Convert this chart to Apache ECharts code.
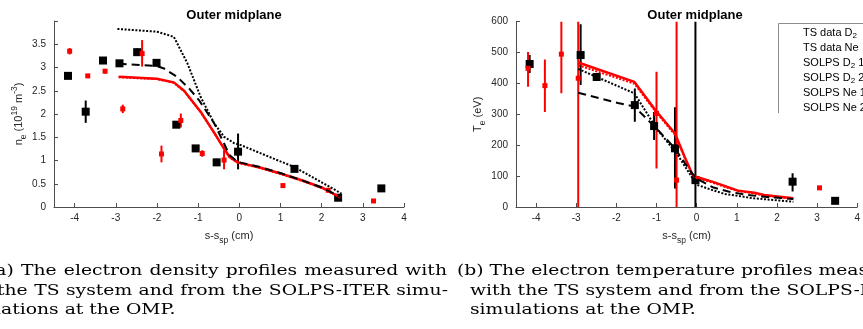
<!DOCTYPE html>
<html><head><meta charset="utf-8">
<script src="https://cdn.jsdelivr.net/npm/echarts@6/dist/echarts.min.js"></script>
<style>
html,body{margin:0;padding:0;background:#fff;overflow:hidden;width:863px;height:329px;}
#chart{position:absolute;left:0;top:0;width:863px;height:329px;}
.cap{position:absolute;font-family:'DejaVu Serif',serif;font-size:15px;line-height:20px;color:#000;white-space:nowrap;transform-origin:0 0;transform:scaleX(1.25);}
.just{text-align:justify;text-align-last:justify;white-space:normal;}
</style></head><body>
<div id="chart"></div>
<script>
// ---------- data: electron density (left panel) ----------
const neD2X  = [-4.16,-3.73,-3.31,-2.91,-2.48,-2.01,-1.53,-1.06,-0.55,-0.03,1.34,2.40,3.45];
const neD2Y  = [2.82,2.05,3.15,3.09,3.33,3.10,1.77,1.26,0.96,1.19,0.82,0.20,0.40];
const neD2Lo = [2.79,1.81,3.12,3.06,3.25,3.03,1.71,1.21,0.88,0.81,0.78,0.17,0.37];
const neD2Hi = [2.85,2.29,3.18,3.12,3.41,3.17,1.83,1.31,1.04,1.58,0.86,0.23,0.43];
const neNeX  = [-4.12,-3.68,-3.26,-2.83,-2.36,-1.89,-1.42,-0.90,-0.37,1.06,2.16,3.26];
const neNeY  = [3.35,2.82,2.92,2.11,3.30,1.14,1.86,1.15,1.01,0.46,0.36,0.13];
const neNeLo = [3.28,2.80,2.87,2.02,3.02,0.96,1.71,1.08,0.81,0.41,0.33,0.12];
const neNeHi = [3.42,2.84,2.97,2.20,3.59,1.32,2.01,1.22,1.23,0.51,0.39,0.14];
const neSolD21X = [-2.93,-2.0,-1.83,-1.51,-1.22,-0.98,-0.61,-0.40,-0.24,-0.04,0.5,1.0,1.5,2.0,2.45];
const neSolD21Y = [3.08,3.03,2.98,2.80,2.55,2.30,1.80,1.42,1.12,0.97,0.86,0.73,0.58,0.42,0.22];
const neSolD22X = [-2.96,-2.0,-1.59,-1.26,-0.94,-0.61,-0.37,-0.12,0.04,1.0,1.34,2.0,2.48];
const neSolD22Y = [3.83,3.77,3.66,3.09,2.37,1.80,1.51,1.37,1.33,0.98,0.86,0.53,0.29];
const neSolNe1X = [-2.93,-2.0,-1.59,-1.34,-0.94,-0.61,-0.40,-0.24,-0.04,0.5,1.0,1.5,2.0,2.45];
const neSolNe1Y = [2.80,2.76,2.68,2.50,2.05,1.60,1.30,1.08,0.96,0.85,0.72,0.58,0.42,0.21];
const neSolNe2X = [-2.93,-2.0,-1.59,-1.34,-0.94,-0.61,-0.40,-0.24,-0.04,0.5,1.0,1.5,2.0,2.45];
const neSolNe2Y = [2.79,2.75,2.67,2.49,2.04,1.59,1.29,1.07,0.95,0.84,0.71,0.57,0.41,0.20];

// ---------- data: electron temperature (right panel) ----------
const teD2X  = [-4.16,-2.89,-2.49,-1.54,-1.06,-0.54,-0.03,2.39,3.45];
const teD2Y  = [463,492,421,330,262,190,87,82,20];
const teD2Lo = [434,395,416,276,217,60,0,50,17];
const teD2Hi = [492,592,426,384,308,323,700,109,23];
const teNeX  = [-4.2,-3.78,-3.37,-2.95,-1.0,-0.5,3.06];
const teNeY  = [449,393,495,417,303,87,62];
const teNeLo = [389,308,368,0,125,0,58];
const teNeHi = [502,478,700,700,438,700,66];
const teSolD21X = [-2.95,-1.96,-1.55,-0.99,-0.54,-0.18,0.0,0.4,0.79,1.2,1.7,2.41];
const teSolD21Y = [370,337,325,253,190,120,92,64,50,40,33,26];
const teSolD22X = [-2.95,-1.55,-0.99,-0.5,-0.18,0.0,0.39,0.71,1.44,2.41];
const teSolD22Y = [447,368,252,174,109,72,55,42,28,17];
const teSolNe1X = [-2.95,-1.55,-1.03,-0.54,-0.30,-0.10,0.0,0.39,1.03,1.44,1.68,2.41];
const teSolNe1Y = [468,405,314,238,163,104,97,82,53,46,39,28];
const teSolNe2X = [-2.95,-1.55,-1.03,-0.54,-0.30,-0.10,0.0,0.39,1.03,1.44,1.68,2.41];
const teSolNe2Y = [459,399,310,234,160,101,94,79,51,44,37,26];

// ---------- labels ----------
const legendNames = ['TS data D2','TS data Ne','SOLPS D2 1','SOLPS D2 2','SOLPS Ne 1','SOLPS Ne 2'];
const panelTitle = 'Outer midplane';
const xName = 's-s{sub|sp} (cm)';
const neName = 'n{sub|e} (10{sup|19} m{sup|-3})';
const teName = 'T{sub|e} (eV)';
const capLeft = ['(a) The electron density profiles measured with','the TS system and from the SOLPS-ITER simu-','lations at the OMP.'];
const capRight = ['(b) The electron temperature profiles measured','with the TS system and from the SOLPS-ITER','simulations at the OMP.'];

const FONT = "'Liberation Sans', Arial, Helvetica, sans-serif";
const AX = '#4d4d4d';
const zip = (xs, ys) => xs.map((x, i) => [x, ys[i]]);
const zip3 = (xs, a, b) => xs.map((x, i) => [x, a[i], b[i]]);

function errSeries(xi, data, color) {
  return {
    type: 'custom', xAxisIndex: xi, yAxisIndex: xi, data, clip: true, z: 2, silent: true,
    encode: {x: 0, y: [1, 2]},
    renderItem: (params, api) => {
      const a = api.coord([api.value(0), api.value(1)]);
      const b = api.coord([api.value(0), api.value(2)]);
      return {type: 'line', shape: {x1: a[0], y1: a[1], x2: b[0], y2: b[1]},
              style: {stroke: color, lineWidth: 2}};
    }
  };
}
function scat(name, xi, data, color, sym, size) {
  return {type: 'scatter', name, xAxisIndex: xi, yAxisIndex: xi, data, symbol: sym,
          symbolSize: size, itemStyle: {color, opacity: 1}, z: 3, silent: true};
}
function line(name, xi, data, color, type, width, z) {
  return {type: 'line', name, xAxisIndex: xi, yAxisIndex: xi, data, symbol: 'none',
          showSymbol: false, lineStyle: {color, type, width, cap: 'butt'}, itemStyle: {color},
          z, silent: true, clip: true};
}
const DOT = [2, 1.6];
const DASH = [8, 5];

const subRich = {
  sub: {fontSize: 8.5, fontFamily: FONT, color: '#262626', verticalAlign: 'bottom', lineHeight: 9},
  sup: {fontSize: 8.5, fontFamily: FONT, color: '#262626', verticalAlign: 'top', lineHeight: 9}
};
const nameStyle = {fontSize: 11, fontFamily: FONT, color: '#262626', lineHeight: 18, rich: subRich};
const xNameStyle = {fontSize: 11, fontFamily: FONT, color: '#262626', lineHeight: 17,
  rich: {sub: {fontSize: 8.5, fontFamily: FONT, color: '#262626', verticalAlign: 'bottom', lineHeight: 9}}};

function xAx(gi) {
  return {
    gridIndex: gi, type: 'value', min: -4.5, max: 4, splitNumber: 8,
    name: xName, nameLocation: 'middle', nameGap: 20, nameTextStyle: xNameStyle,
    axisLine: {show: true, onZero: false, lineStyle: {color: AX, width: 1}},
    axisTick: {show: true, inside: true, length: 4, lineStyle: {color: AX}},
    splitLine: {show: false},
    axisLabel: {color: '#262626', fontSize: 10, fontFamily: FONT, margin: 6,
      formatter: v => Number.isInteger(v) ? String(v) : ''}
  };
}
function yAx(gi, min, max, interval, name, gap, hideMax) {
  return {
    gridIndex: gi, type: 'value', min, max, interval,
    name, nameLocation: 'middle', nameGap: gap, nameTextStyle: nameStyle,
    axisLine: {show: true, onZero: false, lineStyle: {color: AX, width: 1}},
    axisTick: {show: true, inside: true, length: 4, lineStyle: {color: AX}},
    splitLine: {show: false},
    axisLabel: {color: '#262626', fontSize: 10, fontFamily: FONT, margin: 8,
      formatter: v => (hideMax && v === max) ? '' : String(v)}
  };
}

const chart = echarts.init(document.getElementById('chart'), null, {renderer: 'canvas'});
chart.setOption({
  animation: false,
  backgroundColor: '#fff',
  textStyle: {fontFamily: FONT},
  title: [
    {text: panelTitle, left: 229, top: 4, textAlign: 'center',
     textStyle: {fontSize: 13, fontWeight: 'bold', fontFamily: FONT, color: '#000'}},
    {text: panelTitle, left: 690, top: 4, textAlign: 'center',
     textStyle: {fontSize: 13, fontWeight: 'bold', fontFamily: FONT, color: '#000'}}
  ],
  grid: [
    {left: 54, top: 21, width: 350, height: 186},
    {left: 516, top: 21.7, width: 350, height: 185.3}
  ],
  xAxis: [xAx(0), xAx(1)],
  yAxis: [yAx(0, 0, 4, 0.5, neName, 19, true), yAx(1, 0, 600, 100, teName, 26, false)],
  legend: {
    data: legendNames, orient: 'vertical', left: 798, top: 26, padding: 0,
    icon: 'none', itemWidth: 0, itemHeight: 14, itemGap: 1, selectedMode: false,
    formatter: n => n.replace('D2', 'D{sub|2}'),
    textStyle: {fontFamily: FONT, fontSize: 11, color: '#000', lineHeight: 14,
      rich: {sub: {fontSize: 8, fontFamily: FONT, color: '#000', verticalAlign: 'bottom', lineHeight: 8}}}
  },
  graphic: [
    {type: 'polyline', silent: true, z: 10,
     shape: {points: [[778.5, 113], [778.5, 23.5], [870, 23.5]]},
     style: {stroke: '#8c8c8c', fill: null, lineWidth: 1}}
  ],
  series: [
    errSeries(0, zip3(neD2X, neD2Lo, neD2Hi), '#000'),
    errSeries(0, zip3(neNeX, neNeLo, neNeHi), '#ff0000'),
    errSeries(1, zip3(teD2X, teD2Lo, teD2Hi), '#000'),
    errSeries(1, zip3(teNeX, teNeLo, teNeHi), '#ff0000'),
    scat('TS data D2', 0, zip(neD2X, neD2Y), '#000', 'rect', 8),
    scat('TS data Ne', 0, zip(neNeX, neNeY), '#ff0000', 'rect', 5),
    scat('TS data D2', 1, zip(teD2X, teD2Y), '#000', 'rect', 8),
    scat('TS data Ne', 1, zip(teNeX, teNeY), '#ff0000', 'rect', 5),
    line('SOLPS D2 1', 0, zip(neSolD21X, neSolD21Y), '#000', DASH, 2, 6),
    line('SOLPS D2 2', 0, zip(neSolD22X, neSolD22Y), '#000', DOT, 2, 6),
    line('SOLPS Ne 1', 0, zip(neSolNe1X, neSolNe1Y), '#ff0000', 'solid', 2.5, 5),
    line('SOLPS Ne 2', 0, zip(neSolNe2X, neSolNe2Y), '#ff0000', DOT, 2, 4),
    line('SOLPS D2 1', 1, zip(teSolD21X, teSolD21Y), '#000', DASH, 2, 6),
    line('SOLPS D2 2', 1, zip(teSolD22X, teSolD22Y), '#000', DOT, 2, 6),
    line('SOLPS Ne 1', 1, zip(teSolNe1X, teSolNe1Y), '#ff0000', 'solid', 2.5, 5),
    line('SOLPS Ne 2', 1, zip(teSolNe2X, teSolNe2Y), '#ff0000', DOT, 2, 4)
  ]
});

// ---------- captions ----------
const S = 1.25;
const capSpecs = [
  {txt: capLeft[0], x: -12, y: 260, w: 459, just: true},
  {txt: capLeft[1], x: -3, y: 280, w: 451, just: true},
  {txt: capLeft[2], x: -5, y: 299, w: 0, just: false},
  {txt: capRight[0], x: 457, y: 260, w: 0, just: false},
  {txt: capRight[1], x: 470, y: 280, w: 0, just: false},
  {txt: capRight[2], x: 470, y: 299, w: 0, just: false}
];
capSpecs.forEach(c => {
  const d = document.createElement('div');
  d.className = 'cap' + (c.just ? ' just' : '');
  d.textContent = c.txt;
  d.style.left = c.x + 'px';
  d.style.top = c.y + 'px';
  if (c.just) d.style.width = (c.w / S) + 'px';
  document.body.appendChild(d);
});
</script>
</body></html>
